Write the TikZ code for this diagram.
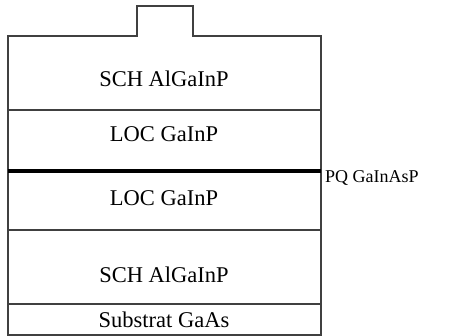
\documentclass[tikz,border=0pt]{standalone}
\usepackage{fontspec}
\setmainfont{Liberation Serif}
\begin{document}
\begin{tikzpicture}[x=1pt,y=-1pt,
  edge/.style={draw=black!75,line width=1.2pt},
  lbl/.style={inner sep=0pt,anchor=base,font=\fontsize{22.5}{24}\selectfont},
  side/.style={inner sep=0pt,anchor=base west,font=\fontsize{18}{20}\selectfont}]
\useasboundingbox (0,0) rectangle (449,336);
% outline with ridge
\draw[edge] (8,304) -- (8,36) -- (137,36) -- (137,6) -- (193,6) -- (193,36) -- (321,36) -- (321,304);
% substrate box
\draw[edge] (8,304) rectangle (321,335);
% interfaces
\draw[edge] (8,110) -- (321,110);
\draw[edge] (8,230) -- (321,230);
% PQ active layer
\draw[line width=4pt,black] (8,171) -- (321,171);
% labels
\node[lbl] (sch1) at (164,87) {SCH AlGaInP};
\node[lbl] (loc1) at (164,142) {LOC GaInP};
\node[lbl] (loc2) at (164,206) {LOC GaInP};
\node[lbl] (sch2) at (164,282) {SCH AlGaInP};
\node[lbl] (sub) at (164,327) {Substrat GaAs};
\node[side] (pq) at (325,183) {PQ GaInAsP};
\end{tikzpicture}
\end{document}
